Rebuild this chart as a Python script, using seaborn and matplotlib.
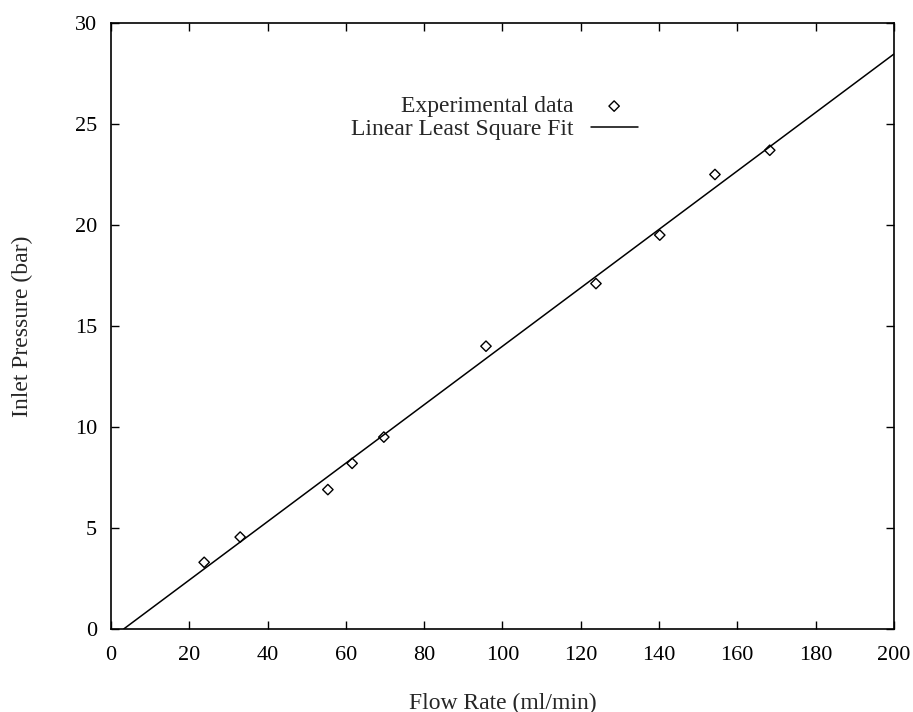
import numpy as np
import pandas as pd
import matplotlib
matplotlib.use("Agg")
import matplotlib.pyplot as plt
import seaborn as sns

flow_rate = [23.8, 33.0, 55.4, 61.6, 69.7, 95.8, 123.9, 140.2, 154.3, 168.3]
inlet_pressure = [3.3, 4.55, 6.9, 8.2, 9.5, 14.0, 17.1, 19.5, 22.5, 23.7]
x_ticks = [0, 20, 40, 60, 80, 100, 120, 140, 160, 180, 200]
y_ticks = [0, 5, 10, 15, 20, 25, 30]

sns.set_theme(style="ticks")
plt.rcParams['font.family'] = ['Liberation Serif', 'DejaVu Serif']

df = pd.DataFrame({"flow": flow_rate, "pressure": inlet_pressure})
slope, intercept = np.polyfit(df["flow"], df["pressure"], 1)
x0 = -intercept / slope
fit = pd.DataFrame({"flow": [x0, 200.0]})
fit["pressure"] = slope * fit["flow"] + intercept

fig = plt.figure(figsize=(9.13, 7.12), dpi=100)
ax = fig.add_axes([0.1216, 0.1166, 0.8574, 0.8511])

sns.scatterplot(data=df, x="flow", y="pressure", ax=ax, marker="D", s=28,
                facecolor="none", edgecolor="black", linewidth=1.0,
                label="Experimental data", zorder=3)
sns.lineplot(data=fit, x="flow", y="pressure", ax=ax, color="black",
             linewidth=1.1, label="Linear Least Square Fit")

ax.set_xlim(0, 200)
ax.set_ylim(0, 30)
ax.set_xticks(x_ticks)
ax.set_yticks(y_ticks)
ax.tick_params(direction="in", top=True, right=True, length=6, width=1,
               labelsize=16, colors="black")
ax.tick_params(axis="x", pad=12)
ax.tick_params(axis="y", pad=10)
for s in ax.spines.values():
    s.set_linewidth(1.2)
    s.set_color("black")

ax.set_xlabel("Flow Rate (ml/min)", fontsize=17, labelpad=20)
ax.set_ylabel("Inlet Pressure (bar)", fontsize=17, labelpad=30)

leg = ax.legend(loc="upper right", bbox_to_anchor=(0.70, 0.915), frameon=False,
                markerfirst=False, fontsize=17, handlelength=2.0,
                labelspacing=0.05, handletextpad=0.7)
leg._legend_box.align = "right"

fig.savefig("out.png", dpi=100)
